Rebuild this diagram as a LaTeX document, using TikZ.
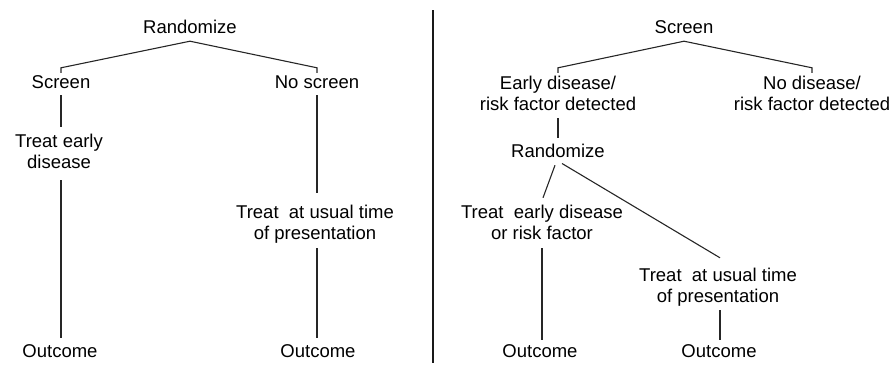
\documentclass[tikz,border=0pt]{standalone}
\usepackage{fontspec}
\setmainfont{Liberation Sans}
\begin{document}
\begin{tikzpicture}[x=1pt,y=-1pt,
  lbl/.style={inner sep=0pt,anchor=base,font=\fontsize{18.5}{21}\selectfont},
  one/.style={lbl,text height=14.7pt,text depth=6.3pt},
  two/.style={lbl},
  conn/.style={line width=1.1pt,black!85},
  divider/.style={line width=2pt,black!90}]
\useasboundingbox (0,0) rectangle (890,375);
\newcommand{\twolines}[2]{\begin{tabular}[t]{@{}c@{}}#1\\#2\end{tabular}}
% ---------- left panel ----------
\node[one] (lrand) at (190,33) {Randomize};
\node[one] (lscr) at (61,88) {Screen};
\node[one] (lnos) at (317,88) {No screen};
\node[two] (ltre) at (59,147) {\twolines{Treat early}{disease}};
\node[two] (ltus) at (315,218) {\twolines{Treat\ \ at usual time}{of presentation}};
\node[one] (lout1) at (60,357) {Outcome};
\node[one] (lout2) at (318,357) {Outcome};
\coordinate (lapex) at ([yshift=-1.7pt]lrand.south);
\draw[conn] (lapex) -- ([yshift=5.3pt]lscr.north) -- ([yshift=0.3pt]lscr.north);
\draw[conn] (lapex) -- ([yshift=5.3pt]lnos.north) -- ([yshift=0.3pt]lnos.north);
\draw[conn] ([yshift=-0.7pt]lscr.south) -- ([yshift=5.3pt,xshift=2pt]ltre.north);
\draw[conn] ([yshift=-5.7pt,xshift=2pt]ltre.south) -- ([yshift=4.3pt,xshift=1pt]lout1.north);
\draw[conn] ([yshift=-0.7pt]lnos.south) -- ([yshift=10.3pt,xshift=2pt]ltus.north);
\draw[conn] ([yshift=-2.7pt,xshift=2pt]ltus.south) -- ([yshift=4.3pt,xshift=-1pt]lout2.north);
% ---------- divider ----------
\coordinate (dtop) at (433,10);
\coordinate (dbot) at (433,363);
\draw[divider] (dtop) -- (dbot);
% ---------- right panel ----------
\node[one] (rscr) at (684,33) {Screen};
\node[two] (rear) at (558,89) {\twolines{Early disease/}{risk factor detected}};
\node[two] (rnod) at (812,89) {\twolines{No disease/}{risk factor detected}};
\node[one] (rrand) at (558,157) {Randomize};
\node[two] (rtre) at (542,218) {\twolines{Treat\ \ early disease}{or risk factor}};
\node[two] (rtus) at (718,281) {\twolines{Treat\ \ at usual time}{of presentation}};
\node[one] (rout1) at (540,357) {Outcome};
\node[one] (rout2) at (719,357) {Outcome};
\coordinate (rapex) at ([yshift=-1.7pt]rscr.south);
\draw[conn] (rapex) -- ([yshift=6.3pt]rear.north) -- ([yshift=1.3pt]rear.north);
\draw[conn] (rapex) -- ([yshift=6.3pt]rnod.north) -- ([yshift=1.3pt]rnod.north);
\draw[conn] ([yshift=-1.7pt]rear.south) -- ([yshift=4.3pt]rrand.north);
\draw[conn] ([yshift=-1.7pt,xshift=-3pt]rrand.south) -- ([yshift=5.3pt,xshift=1pt]rtre.north);
\draw[conn] ([xshift=4pt]rrand.south) -- ([yshift=8.3pt,xshift=2pt]rtus.north);
\draw[conn] ([yshift=-2.7pt]rtre.south) -- ([yshift=2.3pt,xshift=2pt]rout1.north);
\draw[conn] ([yshift=-1.7pt,xshift=2pt]rtus.south) -- ([yshift=2.3pt,xshift=1pt]rout2.north);
\end{tikzpicture}
\end{document}
